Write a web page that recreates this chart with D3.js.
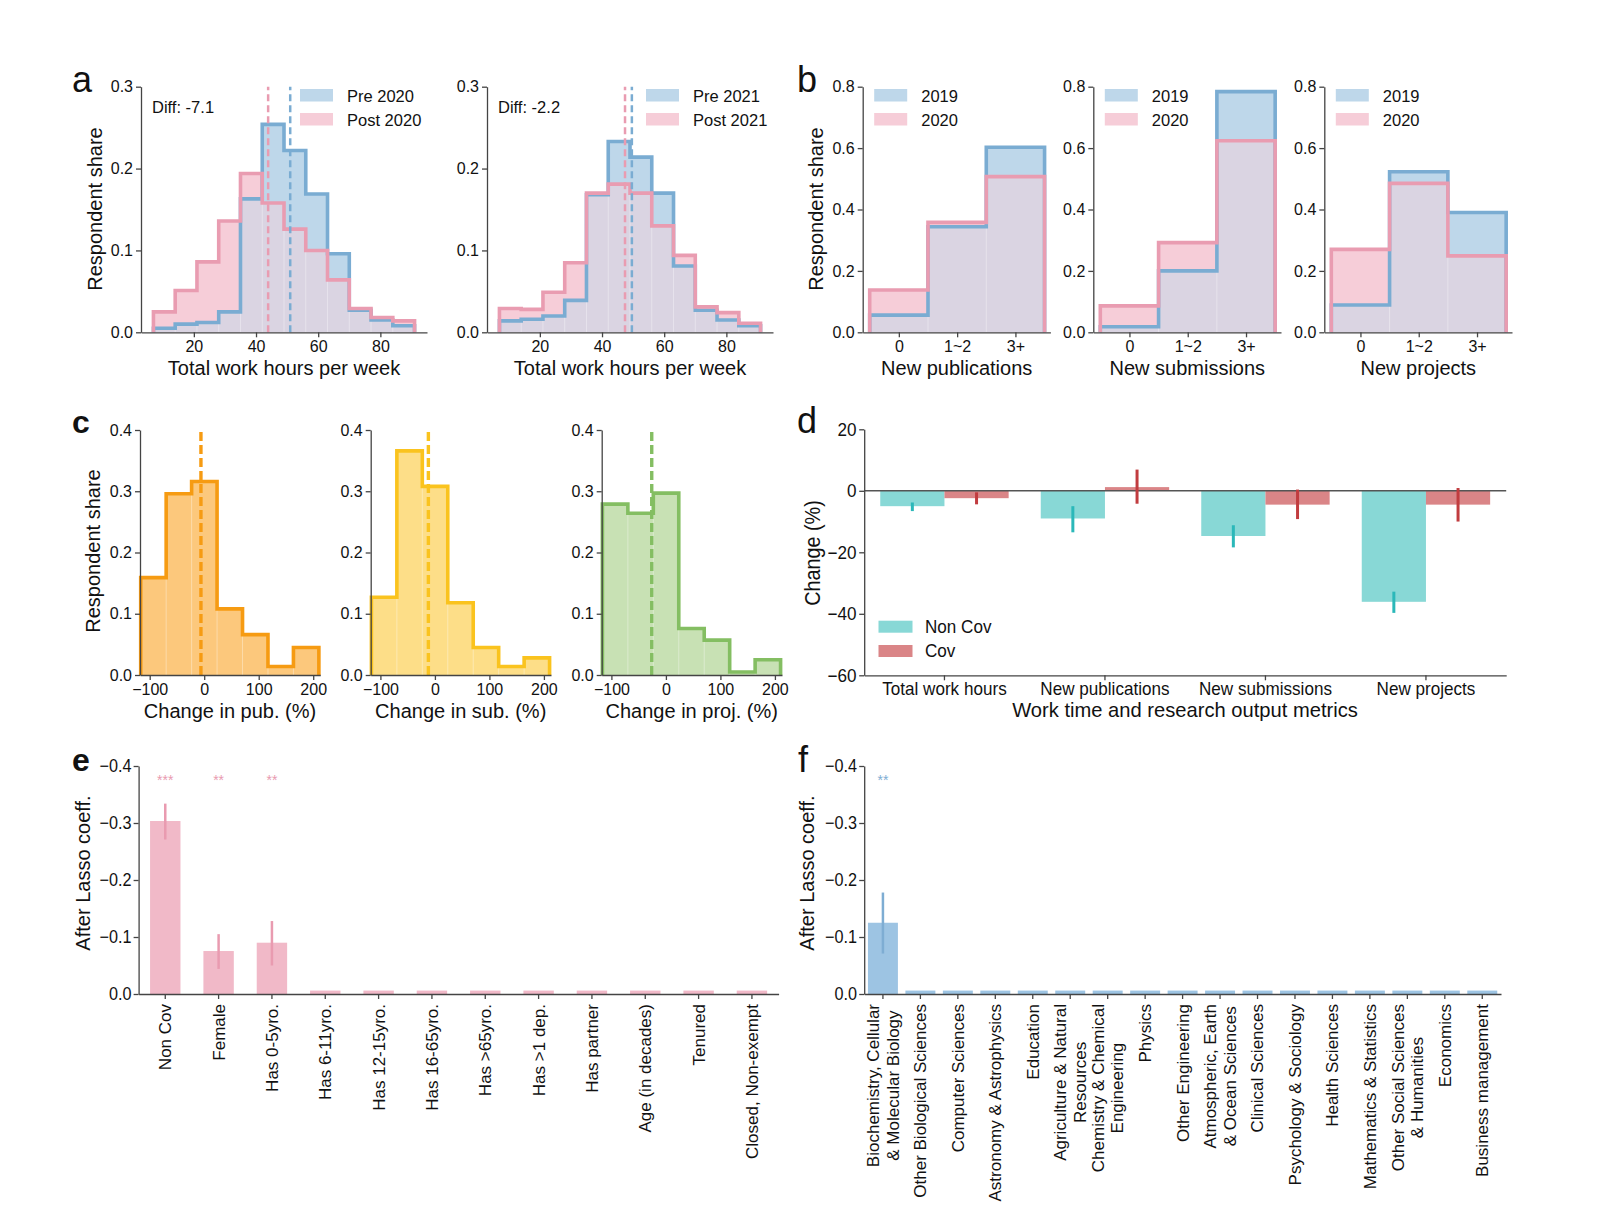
<!DOCTYPE html>
<html>
<head>
<meta charset="utf-8">
<script src="https://cdn.jsdelivr.net/npm/d3@7"></script>
<style>
  body { margin: 0; background: #fff; }
  svg { display: block; }
</style>
</head>
<body>
<svg id="fig" width="1598" height="1221"></svg>
<script>
// ---------- data ----------
// a: weekly work hours histograms
const hourEdges = [7, 14, 21, 28, 35, 42, 49, 56, 63, 70, 77, 84, 91];
const pre2020  = [0.005, 0.010, 0.012, 0.025, 0.163, 0.254, 0.222, 0.169, 0.096, 0.027, 0.015, 0.008];
const post2020 = [0.025, 0.051, 0.086, 0.136, 0.194, 0.158, 0.126, 0.100, 0.064, 0.029, 0.018, 0.014];
const pre2021  = [0.014, 0.016, 0.020, 0.039, 0.168, 0.233, 0.214, 0.170, 0.081, 0.027, 0.015, 0.008];
const post2021 = [0.029, 0.028, 0.049, 0.085, 0.170, 0.181, 0.170, 0.130, 0.094, 0.031, 0.024, 0.011];
const hourMeans2020 = [51.0, 43.9];   // pre, post
const hourMeans2021 = [49.6, 47.4];
const hourDiffs = ["Diff: -7.1", "Diff: -2.2"];
const hourTicks = [20, 40, 60, 80];

// b: output counts
const countCats = ["0", "1~2", "3+"];
const pubs2019  = [0.056, 0.344, 0.603];
const pubs2020  = [0.138, 0.358, 0.507];
const subs2019  = [0.018, 0.200, 0.784];
const subs2020  = [0.086, 0.292, 0.624];
const projs2019 = [0.089, 0.523, 0.390];
const projs2020 = [0.270, 0.485, 0.249];

// c: change histograms
const changeEdges = [-116.5, -69.8, -23.1, 23.6, 70.3, 117, 163.7, 210.4];
const pubChange  = [0.159, 0.296, 0.316, 0.108, 0.066, 0.014, 0.045];
const subChange  = [0.127, 0.366, 0.308, 0.118, 0.045, 0.014, 0.028];
const projChange = [0.279, 0.264, 0.297, 0.076, 0.057, 0.005, 0.025];
const changeMedians = [-6, -12, -26];
const changeTicks = [-100, 0, 100, 200];

// d: change by group
const metrics = ["Total work hours", "New publications", "New submissions", "New projects"];
const nonCovChange = [-5.0, -9.0, -14.7, -36.1];
const nonCovLo = [-6.6, -13.5, -18.4, -39.7];
const nonCovHi = [-3.8, -5.0, -11.2, -32.8];
const covChange = [-2.4, 1.2, -4.5, -4.5];
const covLo = [-4.4, -4.2, -9.2, -10.0];
const covHi = [-0.5, 6.9, 0.4, 0.9];

// e: post-lasso coefficients, demographics
const eLabels = ["Non Cov", "Female", "Has 0-5yro.", "Has 6-11yro.", "Has 12-15yro.", "Has 16-65yro.",
  "Has >65yro.", "Has >1 dep.", "Has partner", "Age (in decades)", "Tenured", "Closed, Non-exempt"];
const eCoef = [-0.3035, -0.0754, -0.090, -0.006, -0.006, -0.006, -0.006, -0.006, -0.006, -0.006, -0.006, -0.006];
const eLo = [-0.334, -0.105, -0.128, null, null, null, null, null, null, null, null, null];
const eHi = [-0.271, -0.044, -0.050, null, null, null, null, null, null, null, null, null];
const eStars = ["***", "**", "**", "", "", "", "", "", "", "", "", ""];

// f: post-lasso coefficients, fields
const fLabels = ["Biochemistry, Cellular\n& Molecular Biology", "Other Biological Sciences", "Computer Sciences",
  "Astronomy & Astrophysics", "Education", "Agriculture & Natural\nResources", "Chemistry & Chemical\nEngineering",
  "Physics", "Other Engineering", "Atmospheric, Earth\n& Ocean Sciences", "Clinical Sciences",
  "Psychology & Sociology", "Health Sciences", "Mathematics & Statistics", "Other Social Sciences\n& Humanities",
  "Economics", "Business management"];
const fCoef = [-0.125, -0.006, -0.006, -0.006, -0.006, -0.006, -0.006, -0.006, -0.006, -0.006, -0.006,
  -0.006, -0.006, -0.006, -0.006, -0.006, -0.006];
const fLo = [-0.178, null, null, null, null, null, null, null, null, null, null, null, null, null, null, null, null];
const fHi = [-0.071, null, null, null, null, null, null, null, null, null, null, null, null, null, null, null, null];
const fStars = ["**", "", "", "", "", "", "", "", "", "", "", "", "", "", "", "", ""];

// ---------- styling ----------
const FONT = "'Liberation Sans', Arial, Helvetica, sans-serif";
const AXIS_COL = "#444";
const BLUE_FILL = "#bed7ea", PINK_FILL = "#f6cdd8", OVER_FILL = "#dad4e2";
const BLUE_LINE = "#7aacd2", PINK_LINE = "#e99cb1";
const NARROW = 0.95;

const svg = d3.select("#fig").style("font-family", FONT);

function text(g, x, y, str, o = {}) {
  const t = g.append("text")
    .attr("transform", `translate(${x},${y})` + (o.rotate ? ` rotate(${o.rotate})` : "") + (o.sx ? ` scale(${o.sx},1)` : ""))
    .attr("text-anchor", o.anchor || "start")
    .attr("fill", o.color || "#111")
    .style("font-size", (o.size || 16) + "px")
    .text(str);
  if (o.weight) t.style("font-weight", o.weight);
  if (o.family) t.style("font-family", o.family);
  return t;
}

function axes(g, xs, ys, o) {
  const xAxis = d3.axisBottom(xs).tickSize(5).tickSizeOuter(0).tickPadding(o.xPad ?? 3);
  if (o.xTicks) xAxis.tickValues(o.xTicks);
  if (o.xFmt) xAxis.tickFormat(o.xFmt);
  const yAxis = d3.axisLeft(ys).tickSize(5).tickSizeOuter(0).tickPadding(o.yPad ?? 3)
    .tickValues(o.yTicks).tickFormat(o.yFmt);
  const gx = g.append("g").attr("transform", `translate(0,${ys.range()[0]})`).call(xAxis);
  const gy = g.append("g").attr("transform", `translate(${xs.range()[0]},0)`).call(yAxis);
  [gx, gy].forEach(a => {
    a.attr("font-family", null).attr("font-size", null);
    a.select(".domain").attr("stroke", AXIS_COL).attr("stroke-width", 1.3);
    a.selectAll(".tick line").attr("stroke", AXIS_COL).attr("stroke-width", 1.3);
    a.selectAll(".tick text").attr("fill", "#111").style("font-size", (o.size || 16) + "px");
    if (o.narrow) a.selectAll(".tick text").attr("transform", `scale(${o.narrow},1)`);
  });
  return {gx, gy};
}

function stepPoints(edges, vals) {
  const pts = [[edges[0], 0]];
  vals.forEach((v, i) => { pts.push([edges[i], v]); pts.push([edges[i + 1], v]); });
  pts.push([edges[edges.length - 1], 0]);
  return pts;
}

// pair of step histograms (blue / pink) with their overlap
function histPair(g, xs, ys, edges, blue, pink) {
  const area = d3.area().x(d => xs(d[0])).y0(ys(0)).y1(d => ys(d[1]));
  const line = d3.line().x(d => xs(d[0])).y(d => ys(d[1]));
  const overlap = blue.map((v, i) => Math.min(v, pink[i]));
  g.append("path").attr("d", area(stepPoints(edges, blue))).attr("fill", BLUE_FILL);
  g.append("path").attr("d", area(stepPoints(edges, pink))).attr("fill", PINK_FILL);
  g.append("path").attr("d", area(stepPoints(edges, overlap))).attr("fill", OVER_FILL);
  edges.slice(1, -1).forEach((e, i) => {
    g.append("line").attr("x1", xs(e)).attr("x2", xs(e)).attr("y1", ys(0))
      .attr("y2", ys(Math.min(overlap[i], overlap[i + 1]))).attr("stroke", "#fff").attr("stroke-opacity", 0.35);
  });
  g.append("path").attr("d", line(stepPoints(edges, blue))).attr("fill", "none")
    .attr("stroke", BLUE_LINE).attr("stroke-width", 3.6);
  g.append("path").attr("d", line(stepPoints(edges, pink))).attr("fill", "none")
    .attr("stroke", PINK_LINE).attr("stroke-width", 3.6);
}

function legend2(g, x, labels) {
  [BLUE_FILL, PINK_FILL].forEach((c, i) => {
    g.append("rect").attr("x", x).attr("y", 89 + i * 24).attr("width", 33).attr("height", 12.5).attr("fill", c);
    text(g, x + 47, 101.7 + i * 24, labels[i], {size: 16.5});
  });
}

// ---------- panel a ----------
const aSets = [
  {x0: 141, pre: pre2020, post: post2020, means: hourMeans2020, labels: ["Pre 2020", "Post 2020"], diff: hourDiffs[0]},
  {x0: 487, pre: pre2021, post: post2021, means: hourMeans2021, labels: ["Pre 2021", "Post 2021"], diff: hourDiffs[1]}
];
aSets.forEach((s, k) => {
  const g = svg.append("g");
  const xs = d3.scaleLinear().domain([3, 95]).range([s.x0, s.x0 + 286]);
  const ys = d3.scaleLinear().domain([0, 0.3]).range([332.3, 86.7]);
  histPair(g, xs, ys, hourEdges, s.pre, s.post);
  [[s.means[1], PINK_LINE], [s.means[0], BLUE_LINE]].forEach(([m, c]) => {
    g.append("line").attr("x1", xs(m)).attr("x2", xs(m)).attr("y1", ys(0)).attr("y2", ys(0.3))
      .attr("stroke", c).attr("stroke-width", 2.5).attr("stroke-dasharray", "7,4");
  });
  axes(g, xs, ys, {xTicks: hourTicks, xFmt: d3.format("d"), yTicks: [0, 0.1, 0.2, 0.3], yFmt: d3.format(".1f")});
  legend2(g, s.x0 + 159, s.labels);
  text(g, s.x0 + 11, 113.3, s.diff, {size: 16.5});
  text(g, s.x0 + 143, 375, "Total work hours per week", {size: 20, anchor: "middle"});
  if (k === 0) text(g, 102, 209, "Respondent share", {size: 20, anchor: "middle", rotate: -90});
});
text(svg, 72, 92.3, "a", {size: 36});

// ---------- panel b ----------
const bSets = [
  {x0: 862.7, a: pubs2019, b: pubs2020, label: "New publications"},
  {x0: 1093.3, a: subs2019, b: subs2020, label: "New submissions"},
  {x0: 1324.3, a: projs2019, b: projs2020, label: "New projects"}
];
const catEdges = [-0.5, 0.5, 1.5, 2.5];
bSets.forEach((s, k) => {
  const g = svg.append("g");
  const xs = d3.scaleLinear().domain([-0.62, 2.6]).range([s.x0, s.x0 + 187.7]);
  const ys = d3.scaleLinear().domain([0, 0.8]).range([332.3, 86.7]);
  histPair(g, xs, ys, catEdges, s.a, s.b);
  axes(g, xs, ys, {xTicks: [0, 1, 2], xFmt: i => countCats[i], yTicks: [0, 0.2, 0.4, 0.6, 0.8], yFmt: d3.format(".1f")});
  legend2(g, s.x0 + 11.5, ["2019", "2020"]);
  text(g, s.x0 + 94, 375, s.label, {size: 20, anchor: "middle"});
  if (k === 0) text(g, 823, 209, "Respondent share", {size: 20, anchor: "middle", rotate: -90});
});
text(svg, 797, 92, "b", {size: 36});

// ---------- panel c ----------
const cSets = [
  {x0: 140, vals: pubChange, med: changeMedians[0], fill: "#fcc87c", line: "#f69b12", label: "Change in pub. (%)"},
  {x0: 370.7, vals: subChange, med: changeMedians[1], fill: "#fdde88", line: "#fac31e", label: "Change in sub. (%)"},
  {x0: 601.7, vals: projChange, med: changeMedians[2], fill: "#c8e1b4", line: "#84be62", label: "Change in proj. (%)"}
];
cSets.forEach((s, k) => {
  const g = svg.append("g");
  const xs = d3.scaleLinear().domain([-117.8, 213]).range([s.x0, s.x0 + 180.3]);
  const ys = d3.scaleLinear().domain([0, 0.4]).range([675, 430]);
  const pts = stepPoints(changeEdges, s.vals);
  g.append("path").attr("d", d3.area().x(d => xs(d[0])).y0(ys(0)).y1(d => ys(d[1]))(pts)).attr("fill", s.fill);
  changeEdges.slice(1, -1).forEach((e, i) => {
    g.append("line").attr("x1", xs(e)).attr("x2", xs(e)).attr("y1", ys(0))
      .attr("y2", ys(Math.min(s.vals[i], s.vals[i + 1]))).attr("stroke", "#fff").attr("stroke-opacity", 0.35);
  });
  g.append("path").attr("d", d3.line().x(d => xs(d[0])).y(d => ys(d[1]))(pts)).attr("fill", "none")
    .attr("stroke", s.line).attr("stroke-width", 3.6);
  g.append("line").attr("x1", xs(s.med)).attr("x2", xs(s.med)).attr("y1", ys(0)).attr("y2", ys(0.4))
    .attr("stroke", s.line).attr("stroke-width", 3.4).attr("stroke-dasharray", "9,4");
  axes(g, xs, ys, {xTicks: changeTicks, xFmt: d3.format("d"), yTicks: [0, 0.1, 0.2, 0.3, 0.4], yFmt: d3.format(".1f"), xPad: 4});
  text(g, s.x0 + 90, 718, s.label, {size: 20, anchor: "middle"});
  if (k === 0) text(g, 100, 551, "Respondent share", {size: 20, anchor: "middle", rotate: -90});
});
text(svg, 72, 433, "c", {size: 32, weight: "bold"});

// ---------- panel d ----------
(function () {
  const g = svg.append("g");
  const xs = d3.scaleBand().domain(metrics).range([864.2, 1506.2]).paddingInner(0.2).paddingOuter(0.1);
  const xg = d3.scaleBand().domain(["Non Cov", "Cov"]).range([0, xs.bandwidth()]);
  const ys = d3.scaleLinear().domain([-60, 20]).range([675.3, 429.3]);
  const series = [
    {key: "Non Cov", vals: nonCovChange, lo: nonCovLo, hi: nonCovHi, fill: "#88d8d6", err: "#2bb8b9"},
    {key: "Cov", vals: covChange, lo: covLo, hi: covHi, fill: "#da8587", err: "#c13c3f"}
  ];
  series.forEach(s => {
    g.selectAll(null).data(metrics).join("rect")
      .attr("x", (m) => xs(m) + xg(s.key))
      .attr("width", xg.bandwidth())
      .attr("y", (m, i) => ys(Math.max(0, s.vals[i])))
      .attr("height", (m, i) => Math.abs(ys(s.vals[i]) - ys(0)))
      .attr("fill", s.fill);
  });
  g.append("line").attr("x1", xs.range()[0]).attr("x2", xs.range()[1]).attr("y1", ys(0)).attr("y2", ys(0))
    .attr("stroke", "#555").attr("stroke-width", 1.6);
  series.forEach(s => {
    g.selectAll(null).data(metrics).join("line")
      .attr("x1", m => xs(m) + xg(s.key) + xg.bandwidth() / 2)
      .attr("x2", m => xs(m) + xg(s.key) + xg.bandwidth() / 2)
      .attr("y1", (m, i) => ys(s.lo[i])).attr("y2", (m, i) => ys(s.hi[i]))
      .attr("stroke", s.err).attr("stroke-width", 3);
  });
  axes(g, xs, ys, {yTicks: [-60, -40, -20, 0, 20], yFmt: d3.format("d"), size: 18, narrow: NARROW, xPad: 2});
  series.forEach((s, i) => {
    g.append("rect").attr("x", 878.5).attr("y", 620.7 + i * 24.3).attr("width", 34).attr("height", 12).attr("fill", s.fill);
    text(g, 925, 633 + i * 24, s.key, {size: 18, sx: NARROW});
  });
  text(g, 1185, 717, "Work time and research output metrics", {size: 21, anchor: "middle", sx: 0.96});
  text(g, 820, 553, "Change (%)", {size: 22, anchor: "middle", rotate: -90, sx: 0.9});
})();
text(svg, 797, 433, "d", {size: 36});

// ---------- panels e, f ----------
function lassoPanel(o) {
  const g = svg.append("g");
  const xs = d3.scaleBand().domain(o.labels).range(o.xRange).paddingInner(o.pi).paddingOuter(o.po);
  const ys = d3.scaleLinear().domain([0, -0.4]).range([994, 766]);
  const cx = l => xs(l) + xs.bandwidth() / 2;
  g.selectAll(null).data(o.labels).join("rect")
    .attr("x", l => xs(l)).attr("width", xs.bandwidth())
    .attr("y", (l, i) => ys(o.coef[i])).attr("height", (l, i) => ys(0) - ys(o.coef[i]))
    .attr("fill", o.fill);
  g.selectAll(null).data(o.labels.filter((l, i) => o.lo[i] !== null)).join("line")
    .attr("x1", cx).attr("x2", cx)
    .attr("y1", l => ys(o.lo[o.labels.indexOf(l)])).attr("y2", l => ys(o.hi[o.labels.indexOf(l)]))
    .attr("stroke", o.err).attr("stroke-width", 2.5);
  g.selectAll(null).data(o.labels).join("text")
    .attr("x", cx).attr("y", 785).attr("text-anchor", "middle")
    .attr("fill", o.err).style("font-size", "14px")
    .text((l, i) => o.stars[i]);
  axes(g, xs, ys, {xFmt: () => "", yTicks: [0, -0.1, -0.2, -0.3, -0.4], yFmt: d3.format(".1f"), size: 18, narrow: 0.9});
  const lab = g.append("g").selectAll("g").data(o.labels).join("g")
    .attr("transform", l => `translate(${cx(l)},${1004}) rotate(-90)`);
  lab.each(function (l) {
    const lines = l.split("\n");
    const sel = d3.select(this);
    const ts = lines.map((t, i) => sel.append("text").text(t)
      .attr("y", (i - (lines.length - 1) / 2) * 19.5).attr("dy", "0.35em")
      .attr("fill", "#111").style("font-size", "17px"));
    const w = d3.max(ts, t => t.node().getComputedTextLength());
    ts.forEach(t => t.attr("x", -w / 2).attr("text-anchor", "middle"));
  });
  text(g, o.yLabelX, 873, "After Lasso coeff.", {size: 20, anchor: "middle", rotate: -90});
}
lassoPanel({labels: eLabels, coef: eCoef, lo: eLo, hi: eHi, stars: eStars, xRange: [138.6, 778.6],
  pi: 0.43, po: 0.215, fill: "#f1b9c8", err: "#e99bb0", yLabelX: 90});
lassoPanel({labels: fLabels, coef: fCoef, lo: fLo, hi: fHi, stars: fStars, xRange: [864.2, 1501],
  pi: 0.2, po: 0.1, fill: "#9dc4e3", err: "#7eadd3", yLabelX: 814});
text(svg, 72, 771, "e", {size: 32, weight: "bold"});
text(svg, 798, 771.5, "f", {size: 36});
</script>
</body>
</html>
